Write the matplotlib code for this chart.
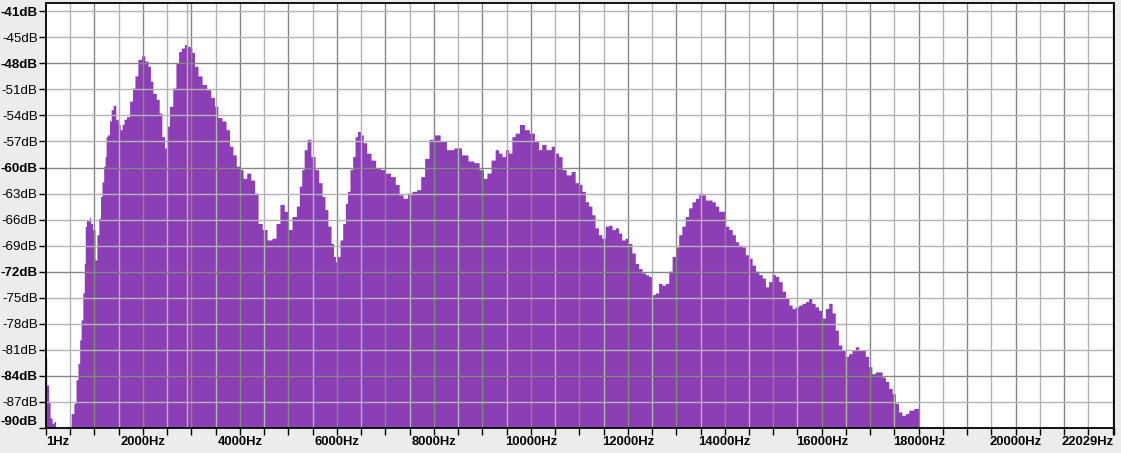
import numpy as np
import matplotlib.pyplot as plt

# spectrum envelope (Hz, dB)
freq_hz = [
    0, 50, 80, 110, 160, 190, 220, 300, 400, 500,
    560, 610, 650, 690, 720, 750, 790, 810, 830, 860,
    900, 920, 940, 1000, 1040, 1080, 1120, 1150, 1180, 1220,
    1240, 1260, 1300, 1340, 1370, 1420, 1480, 1520, 1560, 1600,
    1640, 1700, 1770, 1820, 1870, 1940, 2020, 2080, 2150, 2180,
    2250, 2320, 2370, 2430, 2480, 2520, 2590, 2660, 2720, 2770,
    2830, 2900, 2960, 3000, 3040, 3110, 3180, 3280, 3370, 3450,
    3520, 3590, 3690, 3760, 3830, 3900, 3970, 4040, 4110, 4190,
    4280, 4350, 4420, 4520, 4620, 4720, 4790, 4880, 4970, 5030,
    5140, 5210, 5260, 5310, 5360, 5430, 5520, 5600, 5670, 5740,
    5790, 5860, 5920, 5960, 6000, 6050, 6100, 6160, 6210, 6250,
    6310, 6360, 6410, 6460, 6530, 6580, 6670, 6760, 6860, 6960,
    7060, 7170, 7260, 7330, 7420, 7510, 7610, 7700, 7780, 7860,
    7960, 8080, 8200, 8340, 8510, 8650, 8780, 8890, 9000, 9070,
    9140, 9240, 9310, 9380, 9450, 9520, 9590, 9650, 9720, 9830,
    9930, 10030, 10140, 10200, 10270, 10380, 10480, 10550, 10620, 10690,
    10790, 10890, 10960, 11030, 11100, 11170, 11240, 11300, 11370, 11440,
    11510, 11580, 11650, 11720, 11790, 11850, 11920, 11990, 12060, 12130,
    12200, 12270, 12340, 12410, 12470, 12540, 12610, 12680, 12750, 12820,
    12890, 12960, 13030, 13090, 13160, 13230, 13300, 13370, 13440, 13510,
    13580, 13640, 13710, 13780, 13850, 13920, 13990, 14060, 14130, 14200,
    14260, 14330, 14400, 14470, 14540, 14610, 14680, 14750, 14820, 14880,
    14950, 15020, 15090, 15160, 15230, 15300, 15370, 15430, 15500, 15570,
    15640, 15710, 15770, 15840, 15910, 15980, 16050, 16120, 16190, 16260,
    16320, 16390, 16460, 16530, 16600, 16670, 16740, 16810, 16880, 16940,
    17010, 17080, 17150, 17220, 17290, 17360, 17430, 17500, 17560, 17630,
    17700, 17770, 17840, 17980, 18050,
]
level_db = [
    -82.0, -85.1, -87.0, -88.9, -89.5, -89.3, -95, -95, -95, -95,
    -88.4, -87.2, -84.5, -82.6, -79.9, -77.6, -74.5, -71.1, -66.8, -66.1,
    -66.2, -65.8, -66.5, -67.2, -70.7, -67.8, -65.9, -63.4, -61.7, -59.9,
    -58.8, -56.5, -56.3, -54.7, -53.4, -52.9, -54.5, -55.1, -55.7, -55.1,
    -54.5, -54.2, -52.4, -50.9, -49.5, -47.6, -47.2, -47.8, -48.4, -50.1,
    -51.5, -52.2, -53.8, -56.5, -57.8, -55.3, -53.0, -50.9, -48.0, -46.7,
    -46.3, -45.9, -46.1, -46.3, -46.8, -48.4, -49.5, -50.5, -51.1, -52.0,
    -53.0, -54.3, -54.7, -55.7, -57.6, -58.6, -59.9, -60.3, -61.3, -60.7,
    -61.5, -63.0, -66.5, -67.2, -68.4, -68.2, -66.5, -64.3, -65.1, -67.2,
    -65.7, -64.5, -62.2, -60.3, -58.0, -56.8, -58.8, -60.3, -61.8, -63.4,
    -64.9, -66.8, -68.8, -70.3, -70.9, -70.3, -68.4, -66.5, -64.2, -62.8,
    -60.3, -58.8, -56.5, -55.9, -56.3, -57.2, -58.4, -59.2, -60.1, -60.3,
    -60.7, -61.1, -62.0, -63.2, -63.6, -63.0, -62.8, -62.6, -61.1, -59.0,
    -56.8, -56.3, -57.0, -58.0, -57.8, -58.6, -59.3, -59.5, -60.3, -61.3,
    -60.7, -59.2, -58.0, -58.4, -58.8, -58.0, -58.4, -56.5, -56.1, -55.1,
    -55.7, -56.1, -57.0, -58.0, -57.4, -58.0, -57.6, -58.4, -58.8, -60.3,
    -60.9, -60.5, -61.8, -62.0, -62.8, -64.0, -64.5, -65.5, -67.0, -67.8,
    -68.2, -66.8, -66.7, -67.2, -67.0, -67.6, -68.4, -68.2, -68.8, -69.9,
    -71.1, -71.7, -72.2, -72.4, -72.6, -74.7, -74.5, -73.4, -73.6, -73.4,
    -72.0, -70.3, -69.2, -67.8, -66.8, -65.7, -64.7, -64.0, -63.6, -63.0,
    -63.2, -63.8, -63.8, -64.0, -64.5, -65.1, -65.1, -66.8, -67.2, -67.8,
    -68.6, -69.0, -69.2, -70.1, -70.5, -71.3, -72.0, -72.4, -72.8, -73.8,
    -73.2, -72.4, -72.6, -73.2, -74.3, -75.1, -75.9, -76.3, -76.1, -75.9,
    -75.7, -75.5, -75.1, -75.7, -76.1, -76.5, -77.4, -76.3, -75.7, -76.8,
    -78.8, -80.5, -81.1, -81.8, -81.5, -81.1, -80.7, -81.1, -81.1, -81.8,
    -83.0, -83.8, -83.6, -83.6, -84.2, -84.7, -85.5, -86.1, -87.2, -88.2,
    -88.6, -88.4, -88.0, -87.8, -95,
]

y_ticks = [-42, -45, -48, -51, -54, -57, -60, -63, -66, -69, -72, -75, -78, -81, -84, -87, -90]
y_labels = ['-41dB', '-45dB', '-48dB', '-51dB', '-54dB', '-57dB', '-60dB', '-63dB', '-66dB',
            '-69dB', '-72dB', '-75dB', '-78dB', '-81dB', '-84dB', '-87dB', '-90dB']
y_bold = ['-41dB', '-48dB', '-60dB', '-72dB', '-84dB', '-90dB']
y_major_grid = [-48, -60, -72, -84]

x_ticks = [0, 2000, 4000, 6000, 8000, 10000, 12000, 14000, 16000, 18000, 20000, 22029]
x_labels = ['1Hz', '2000Hz', '4000Hz', '6000Hz', '8000Hz', '10000Hz', '12000Hz',
            '14000Hz', '16000Hz', '18000Hz', '20000Hz', '22029Hz']

fig = plt.figure(figsize=(11.21, 4.53), dpi=100, facecolor='#ececec')
ax = fig.add_axes([46 / 1121, 1 - 428 / 453, 1068 / 1121, 425 / 453])
ax.set_facecolor('white')

# spectrum
ax.fill_between(freq_hz, level_db, -100, step='mid', color='#8c3fb4', linewidth=0, zorder=1)

ax.set_xlim(0, 22029)
ax.set_ylim(-90, -41.05)

# grid: darker every 1000 Hz / 12 dB, lighter in between
for f in np.arange(500, 22001, 500):
    if f % 1000 == 0:
        ax.axvline(f, color='#848884', lw=1.0, zorder=2)
    else:
        ax.axvline(f, color='#b4b4b4', lw=1.0, zorder=2)
ax.axvline(2900, color='#b4b4b4', lw=1.0, zorder=2)
for v in y_ticks[:-1]:
    if v in y_major_grid:
        ax.axhline(v, color='#848884', lw=1.0, zorder=2)
    else:
        ax.axhline(v, color='#b4b4b4', lw=1.0, zorder=2)

font = 'Liberation Sans'
ax.set_yticks(y_ticks)
ax.set_yticklabels(y_labels, fontsize=9.6, family=font)
for lab in ax.get_yticklabels():
    if lab.get_text() in y_bold:
        lab.set_fontweight('bold')
ax.get_yticklabels()[-1].set_verticalalignment('bottom')
ax.tick_params(axis='y', length=5, width=1, pad=1, color='black')

ax.set_xticks(x_ticks)
ax.set_xticklabels(x_labels, fontsize=9.4, family=font, fontweight='bold')
ax.set_xticks(np.arange(500, 22001, 500), minor=True)
ax.tick_params(axis='x', which='both', length=5, width=1, pad=1, color='black')
xl = ax.get_xticklabels()
xl[0].set_horizontalalignment('left')
xl[-1].set_horizontalalignment('right')

for s in ax.spines.values():
    s.set_color('black')
    s.set_linewidth(1.3)
    s.set_zorder(3)

plt.savefig('out.png', dpi=100, facecolor=fig.get_facecolor())
